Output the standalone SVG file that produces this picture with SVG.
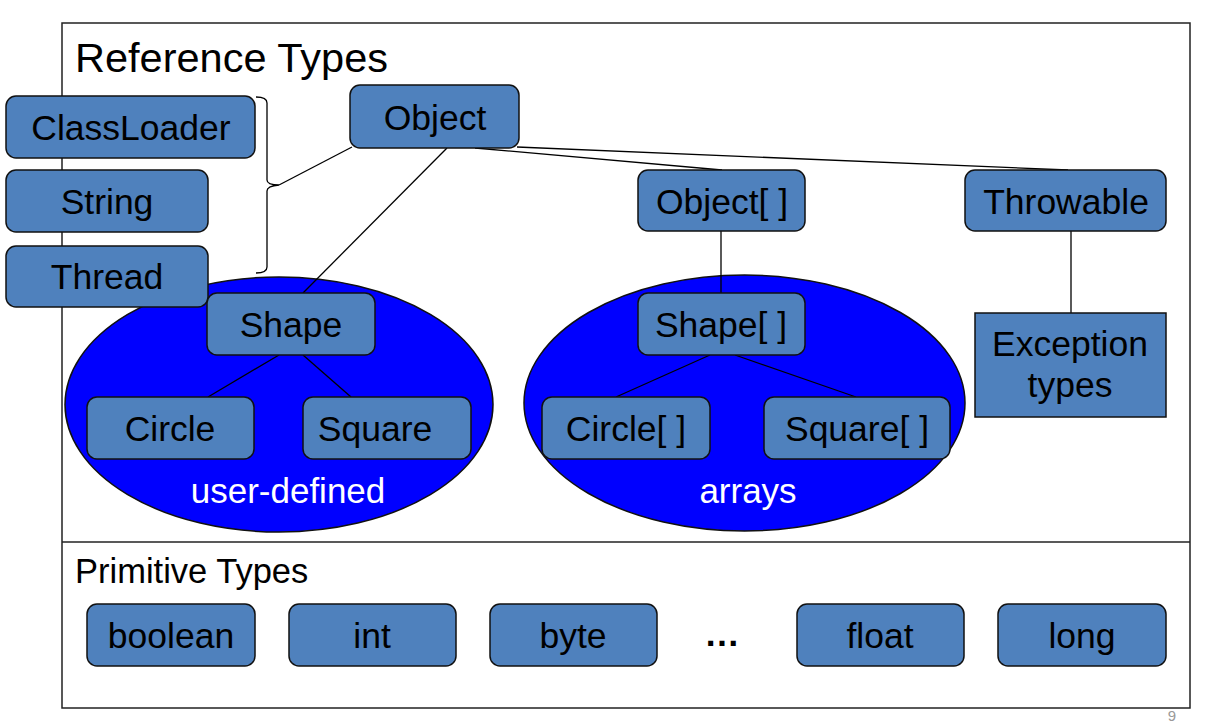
<svg xmlns="http://www.w3.org/2000/svg" width="1212" height="722" viewBox="0 0 1212 722">
<style>
.box{fill:#4f81bd;stroke:#111;stroke-width:1.5}
.t{font-family:"Liberation Sans",Arial,sans-serif;font-size:35.5px;fill:#000;text-anchor:middle}
.w{font-family:"Liberation Sans",Arial,sans-serif;font-size:35px;fill:#fff;text-anchor:middle}
.h{font-family:"Liberation Sans",Arial,sans-serif;fill:#000}
.ell{fill:#0000ff;stroke:#111;stroke-width:1.5}
.c{fill:none;stroke:#000;stroke-width:1.3}
</style>
<rect width="1212" height="722" fill="#fff"/>
<g id="frame">
<rect x="62" y="23" width="1128" height="685" fill="none" stroke="#222" stroke-width="1.5"/>
<line x1="62" y1="542" x2="1190" y2="542" stroke="#222" stroke-width="1.5"/>
<text class="h" x="75" y="72" font-size="41.5">Reference Types</text>
<text class="h" x="75" y="583" font-size="34.5">Primitive Types</text>
</g>
<g id="user-defined">
<ellipse class="ell" cx="279" cy="404.5" rx="214" ry="127.5"/>
<text class="w" x="288" y="503">user-defined</text>
</g>
<g id="arrays">
<ellipse class="ell" cx="744.5" cy="403" rx="220.5" ry="128"/>
<text class="w" x="748" y="503">arrays</text>
</g>
<g id="connectors">
<path class="c" d="M256,97 Q267,97 267,103 L267,180 Q267,185 279,185 Q267,186 267,191 L267,267 Q267,273 256,273"/>
<line class="c" x1="279" y1="185" x2="352" y2="147"/>
<line class="c" x1="447" y1="148" x2="303" y2="293"/>
<line class="c" x1="475" y1="148" x2="722" y2="170"/>
<line class="c" x1="517" y1="147" x2="1068" y2="170"/>
<line class="c" x1="721" y1="231" x2="721" y2="293"/>
<line class="c" x1="1071" y1="231" x2="1071" y2="313"/>
<line class="c" x1="279" y1="355" x2="208" y2="397"/>
<line class="c" x1="303" y1="355" x2="351" y2="397"/>
<line class="c" x1="710" y1="355" x2="616" y2="397"/>
<line class="c" x1="735" y1="355" x2="856" y2="397"/>
</g>
<g id="ClassLoader"><rect class="box" x="6" y="96" width="249" height="62" rx="10"/><text class="t" x="131" y="140">ClassLoader</text></g>
<g id="String"><rect class="box" x="6" y="170" width="202" height="62" rx="10"/><text class="t" x="107" y="214">String</text></g>
<g id="Thread"><rect class="box" x="6" y="246" width="202" height="61" rx="10"/><text class="t" x="107" y="289">Thread</text></g>
<g id="Object"><rect class="box" x="350" y="85" width="169" height="63" rx="10"/><text class="t" x="435" y="130">Object</text></g>
<g id="ObjectArr"><rect class="box" x="638" y="170" width="167" height="61" rx="10"/><text class="t" x="722" y="214">Object[ ]</text></g>
<g id="Throwable"><rect class="box" x="965" y="170" width="201" height="61" rx="10"/><text class="t" x="1066" y="214">Throwable</text></g>
<g id="Exception"><rect class="box" x="975" y="313" width="191" height="104"/><text class="t" x="1070" y="356">Exception</text><text class="t" x="1070" y="397">types</text></g>
<g id="Shape"><rect class="box" x="207" y="293" width="168" height="62" rx="10"/><text class="t" x="291" y="337">Shape</text></g>
<g id="Circle"><rect class="box" x="87" y="397" width="167" height="62" rx="10"/><text class="t" x="170" y="441">Circle</text></g>
<g id="Square"><rect class="box" x="303" y="397" width="168" height="62" rx="10"/><text class="t" x="375" y="441">Square</text></g>
<g id="ShapeArr"><rect class="box" x="638" y="293" width="167" height="62" rx="10"/><text class="t" x="721" y="337">Shape[ ]</text></g>
<g id="CircleArr"><rect class="box" x="542" y="397" width="168" height="62" rx="10"/><text class="t" x="626" y="441">Circle[ ]</text></g>
<g id="SquareArr"><rect class="box" x="764" y="397" width="186" height="62" rx="10"/><text class="t" x="857" y="441">Square[ ]</text></g>
<g id="boolean"><rect class="box" x="87" y="604" width="168" height="62" rx="10"/><text class="t" x="171" y="648">boolean</text></g>
<g id="int"><rect class="box" x="289" y="604" width="167" height="62" rx="10"/><text class="t" x="372" y="648">int</text></g>
<g id="byte"><rect class="box" x="490" y="604" width="167" height="62" rx="10"/><text class="t" x="573" y="648">byte</text></g>
<g id="ellipsis"><text class="t" x="722" y="646" font-weight="bold">…</text></g>
<g id="float"><rect class="box" x="797" y="604" width="167" height="62" rx="10"/><text class="t" x="880" y="648">float</text></g>
<g id="long"><rect class="box" x="998" y="604" width="168" height="62" rx="10"/><text class="t" x="1082" y="648">long</text></g>
<text x="1172" y="721" font-family="Liberation Sans,Arial,sans-serif" font-size="15" fill="#999" text-anchor="middle">9</text>
</svg>
